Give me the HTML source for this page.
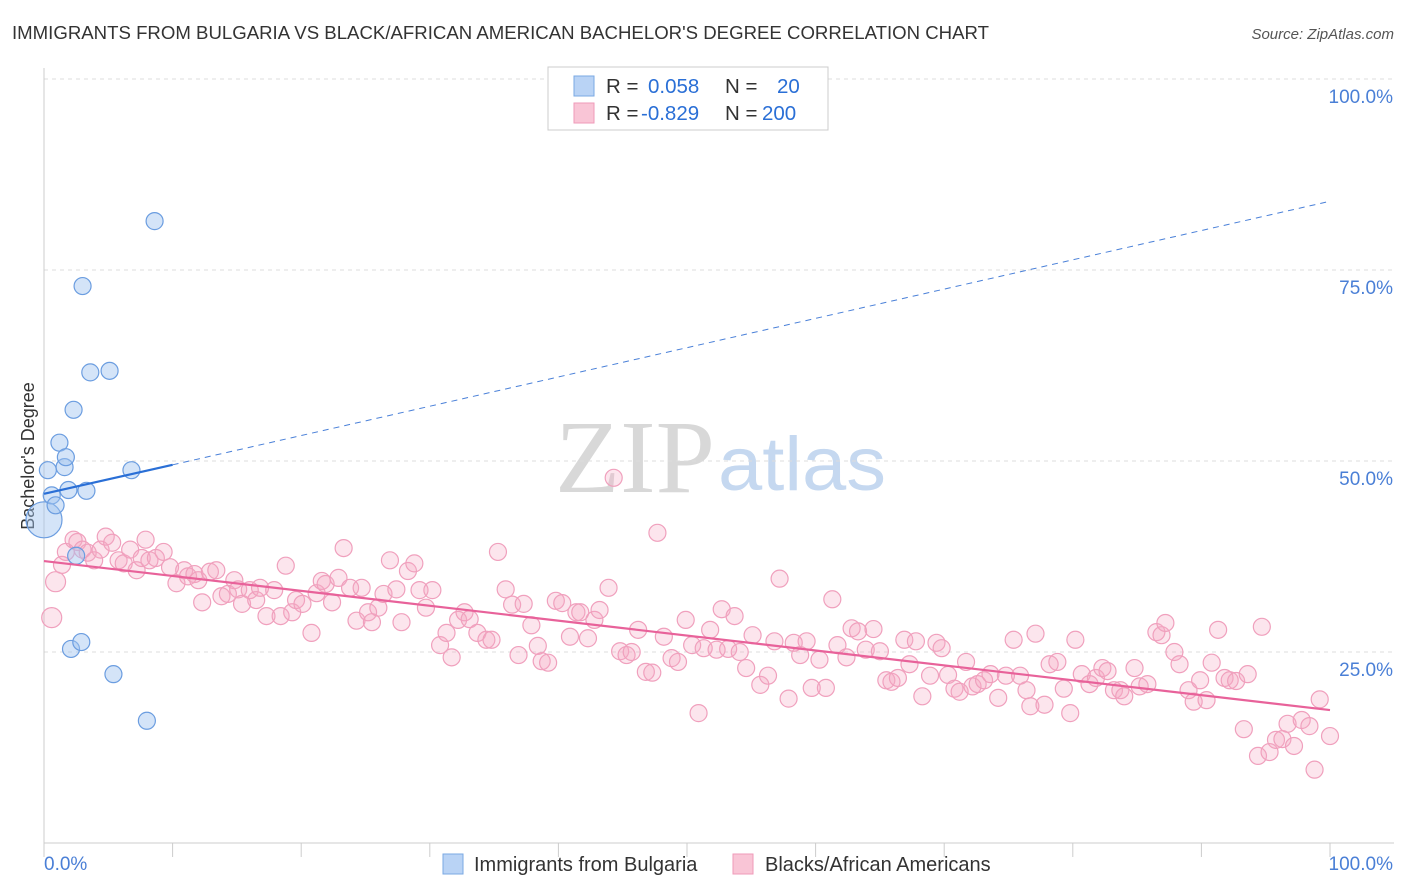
<!DOCTYPE html>
<html><head><meta charset="utf-8"><style>
body{margin:0;background:#fff;font-family:"Liberation Sans",sans-serif;}
svg{display:block}
</style></head><body>
<svg id="chart" width="1406" height="892">
<text x="12" y="39" font-size="18.5" fill="#333" textLength="977" lengthAdjust="spacingAndGlyphs">IMMIGRANTS FROM BULGARIA VS BLACK/AFRICAN AMERICAN BACHELOR'S DEGREE CORRELATION CHART</text>
<text x="1394" y="39" font-size="15" fill="#555" font-style="italic" text-anchor="end">Source: ZipAtlas.com</text>
<text x="555" y="492" font-size="104" fill="#d8d8d8" font-family="Liberation Serif,serif" textLength="160" lengthAdjust="spacingAndGlyphs">ZIP</text>
<text x="718" y="490" font-size="76" fill="#c5d8f0" textLength="168" lengthAdjust="spacingAndGlyphs">atlas</text>
<text transform="translate(34,456) rotate(-90)" font-size="18" fill="#333" text-anchor="middle">Bachelor's Degree</text>
<g id="grid"></g><g id="marks"></g>
<g>
<rect x="548" y="67" width="280" height="63" fill="#fff" stroke="#ccc"/>
<rect x="574" y="76" width="20" height="20" fill="#b9d3f5" stroke="#7aa8e3"/>
<rect x="574" y="103" width="20" height="20" fill="#f9c5d6" stroke="#ef9ab8"/>
<text x="606" y="93" font-size="20.5" fill="#333">R = <tspan fill="#2a6fd6" x="648">0.058</tspan><tspan x="725" fill="#333">N =</tspan><tspan x="777" fill="#2a6fd6">20</tspan></text>
<text x="606" y="120" font-size="20.5" fill="#333">R = <tspan fill="#2a6fd6" x="641">-0.829</tspan><tspan x="725" fill="#333">N =</tspan><tspan x="762" fill="#2a6fd6">200</tspan></text>
</g>
<rect x="443" y="854" width="20" height="20" fill="#b9d3f5" stroke="#7aa8e3"/>
<text x="474" y="871" font-size="20" fill="#333">Immigrants from Bulgaria</text>
<rect x="733" y="854" width="20" height="20" fill="#f9c5d6" stroke="#ef9ab8"/>
<text x="765" y="871" font-size="20" fill="#333">Blacks/African Americans</text>
</svg>
<script>
const yTicks=[25,50,75,100];
const yTickLabels=["25.0%","50.0%","75.0%","100.0%"];
const xTicks=[0,10,20,30,40,50,60,70,80,90,100];
const blueX=[0.0,0.3,0.6,0.9,1.2,1.6,1.7,1.9,2.3,2.5,2.1,2.9,3.0,3.3,3.6,5.1,5.4,6.8,8.0,8.6];
const blueY=[42.3,48.8,45.5,44.2,52.4,49.2,50.5,46.2,56.7,37.6,25.4,26.3,72.9,46.1,61.6,61.8,22.1,48.8,16.0,81.4];
const pinkX=[0.6,0.9,1.4,1.7,2.3,2.6,3.0,3.4,3.9,4.4,4.8,5.3,5.8,6.2,6.7,7.2,7.6,7.9,8.2,8.7,9.3,9.8,10.3,10.9,11.2,11.7,12.0,12.3,12.9,13.4,13.8,14.3,14.8,15.1,15.4,16.0,16.5,16.8,17.3,17.9,18.4,18.8,19.3,19.6,20.1,20.8,21.2,21.6,21.9,22.4,22.9,23.3,23.8,24.3,24.7,25.2,25.5,26.0,26.4,26.9,27.4,27.8,28.3,28.8,29.2,29.7,30.2,30.8,31.3,31.7,32.2,32.7,33.1,33.7,34.4,34.8,35.3,35.9,36.4,36.9,37.3,37.9,38.4,38.7,39.2,39.8,40.3,40.9,41.4,41.7,42.3,42.8,43.2,43.9,44.3,44.8,45.3,45.7,46.2,46.8,47.3,47.7,48.2,48.8,49.3,49.9,50.4,50.9,51.3,51.8,52.3,52.7,53.2,53.7,54.1,54.6,55.1,55.7,56.3,56.8,57.2,57.9,58.3,58.8,59.3,59.7,60.3,60.8,61.3,61.7,62.4,62.8,63.3,63.9,64.5,65.0,65.5,65.9,66.4,66.9,67.3,67.8,68.3,68.9,69.4,69.8,70.3,70.8,71.2,71.7,72.2,72.6,73.1,73.6,74.2,74.8,75.4,75.9,76.4,76.7,77.1,77.8,78.2,78.8,79.3,79.8,80.2,80.7,81.3,81.8,82.3,82.7,83.2,83.7,84.0,84.8,85.2,85.8,86.5,86.9,87.2,87.9,88.3,89.0,89.4,89.9,90.4,90.8,91.3,91.8,92.2,92.7,93.3,93.6,94.4,94.7,95.3,95.8,96.3,96.7,97.2,97.8,98.4,98.8,99.2,100.0];
const pinkY=[29.5,34.2,36.4,38.1,39.7,39.4,38.4,38.0,37.0,38.4,40.1,39.3,37.0,36.6,38.4,35.7,37.3,39.7,37.0,37.3,38.1,36.1,34.0,35.7,34.9,35.2,34.4,31.5,35.5,35.7,32.3,32.6,34.4,33.2,31.3,33.1,31.8,33.4,29.7,33.1,29.7,36.3,30.2,31.8,31.3,27.5,32.7,34.3,33.9,31.5,34.7,38.6,33.4,29.1,33.4,30.2,28.9,30.8,32.6,37.0,33.2,28.9,35.6,36.6,33.1,30.8,33.1,25.9,27.5,24.3,29.2,30.2,29.3,27.5,26.6,26.6,38.1,33.2,31.2,24.6,31.3,28.5,25.8,23.8,23.6,31.7,31.4,27.0,30.2,30.2,26.8,29.2,30.5,33.4,47.8,25.1,24.6,25.0,27.9,22.4,22.3,40.6,27.0,24.2,23.7,29.2,25.9,17.0,25.5,27.9,25.3,30.6,25.4,29.7,25.0,22.9,27.2,20.7,21.9,26.4,34.6,18.9,26.2,24.6,26.4,20.3,24.0,20.3,31.9,25.9,24.3,28.1,27.7,25.3,28.0,25.1,21.3,21.1,21.6,26.6,23.4,26.4,19.2,21.9,26.2,25.5,22.0,20.2,19.8,23.7,20.5,20.8,21.3,22.1,19.0,21.9,26.6,21.9,20.0,17.9,27.4,18.1,23.4,23.7,20.2,17.0,26.6,22.1,20.8,21.6,22.9,22.5,20.0,20.0,19.2,22.9,20.5,20.8,27.6,27.2,28.8,25.0,23.4,20.0,18.5,21.3,18.7,23.6,27.9,21.6,21.3,21.2,14.9,22.1,11.4,28.3,11.9,13.5,13.6,15.6,12.7,16.1,15.3,9.6,18.8,14.0];
const blueTrend=[[0,45.7],[10,49.5],[100,84.0]];
const pinkTrend=[[0,36.9],[100,17.4]];

const NS="http://www.w3.org/2000/svg";
const X0=44,X1=1330,Y0=843,Y100=79;
const xs=v=>X0+(X1-X0)*v/100;
const ys=v=>Y0-(Y0-Y100)*v/100;
function mk(tag,attrs,parent){const e=document.createElementNS(NS,tag);for(const k in attrs)e.setAttribute(k,attrs[k]);parent.appendChild(e);return e;}
const grid=document.getElementById('grid'),marks=document.getElementById('marks');
yTicks.forEach((t,i)=>{
  const l=mk('line',{x1:44,x2:1394,y1:ys(t),y2:ys(t),stroke:'#ddd','stroke-dasharray':'4,4'},grid);
  
  
  const tx=mk('text',{x:1393,y:ys(t)+24,'font-size':19,fill:'#4a7fd6','text-anchor':'end'},grid);
  tx.textContent=yTickLabels[i];
  
  
});
const ax=mk('line',{x1:44,x2:1394,y1:Y0,y2:Y0,stroke:'#ccc'},grid);


const ay=mk('line',{x1:44,x2:44,y1:68,y2:Y0,stroke:'#ccc'},grid);


xTicks.forEach(t=>{
  const l=mk('line',{x1:xs(t),x2:xs(t),y1:Y0,y2:Y0+14,stroke:'#ccc'},grid);
  
  
});
const xl0=mk('text',{x:44,y:870,'font-size':19,fill:'#4a7fd6'},grid);xl0.textContent='0.0%';


const xl1=mk('text',{x:1393,y:870,'font-size':19,fill:'#4a7fd6','text-anchor':'end'},grid);xl1.textContent='100.0%';



pinkX.forEach((x,i)=>{
  const c=mk('circle',{cx:xs(x),cy:ys(pinkY[i]),r:i<2?10:8.5,fill:'rgba(246,170,196,0.3)',stroke:'#f0a0bd','stroke-width':1.2},marks);
  
  
});
blueX.forEach((x,i)=>{
  const c=mk('circle',{cx:xs(x),cy:ys(blueY[i]),r:i===0?18:8.5,fill:'rgba(160,195,240,0.45)',stroke:'#6b9de0','stroke-width':1.2},marks);
  
  
});
const bs=mk('line',{x1:xs(blueTrend[0][0]),y1:ys(blueTrend[0][1]),x2:xs(blueTrend[1][0]),y2:ys(blueTrend[1][1]),stroke:'#2a6fd6','stroke-width':2.2},marks);


const bd=mk('line',{x1:xs(blueTrend[1][0]),y1:ys(blueTrend[1][1]),x2:xs(blueTrend[2][0]),y2:ys(blueTrend[2][1]),stroke:'#4a80d8','stroke-width':1,'stroke-dasharray':'6,5'},marks);


const pl=mk('line',{x1:xs(pinkTrend[0][0]),y1:ys(pinkTrend[0][1]),x2:xs(pinkTrend[1][0]),y2:ys(pinkTrend[1][1]),stroke:'#e8629a','stroke-width':2.2},marks);


</script>
</body></html>
